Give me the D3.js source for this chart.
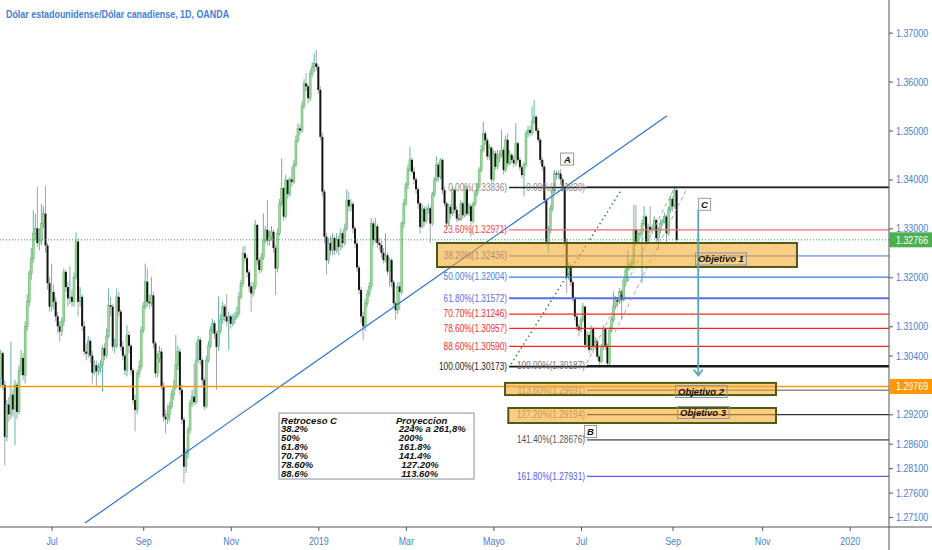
<!DOCTYPE html>
<html>
<head>
<meta charset="utf-8">
<script src="https://cdn.jsdelivr.net/npm/d3@7"></script>
<style>
  body { margin: 0; background: #fff; }
  svg text { font-family: "Liberation Sans", sans-serif; }
</style>
</head>
<body>
<svg id="chart" width="932" height="550"></svg>
<script>
// daily USD/CAD candles, values in pips above 1.30000, one per weekday from 28 May 2018
const firstOpen = -7
const closePips = [
  45,-20,-126,-60,-80,-40,-70,-20,-75,10,
  35,0,100,150,208,239,290,300,270,275,
  310,330,265,188,140,170,150,120,100,89,
  110,211,180,157,160,150,200,273,150,160,
  100,48,44,70,40,5,20,8,15,20,
  55,40,80,143,140,58,60,160,130,58,
  40,10,82,60,10,-51,-71,4,17,92,
  140,191,150,147,163,65,4,34,48,-24,
  -85,-90,-80,-64,-40,-23,21,48,-30,-91,
  -187,-160,-112,-57,-44,-55,31,72,31,-10,
  -64,31,60,92,106,85,58,90,113,140,
  120,110,120,105,113,120,127,160,188,249,
  239,210,181,167,181,307,235,215,240,276,
  297,275,283,293,260,218,290,351,382,324,
  399,370,400,395,430,480,504,500,550,596,
  590,566,617,630,637,630,583,487,375,283,
  235,270,255,280,255,278,262,290,270,300,
  358,345,350,300,269,220,174,120,100,147,
  165,181,310,276,304,270,266,250,235,245,
  212,235,190,147,133,181,170,310,351,389,
  420,440,416,400,380,351,303,340,314,338,
  341,310,370,399,430,405,440,378,351,310,
  344,330,379,338,320,318,351,327,380,330,
  345,315,350,370,385,419,460,494,480,447,
  465,400,453,426,443,450,460,419,481,433,
  450,440,433,474,440,425,409,430,494,501,
  495,518,528,500,481,440,426,358,273,297,
  341,378,412,410,412,400,382,273,201,222,
  190,157,120,99,92,113,140,62,82,52,
  96,58,70,38,28,58,96,60,24,92,
  113,140,154,150,171,154,191,215,225,225,
  230,297,273,290,290,310,324,273,303,297,
  300,317,280,297,310,314,324,290,338,360,
  345,378,276.6
]
const highPips = [
  52,48,-10,-50,-45,68,-30,-10,-15,20,
  51,45,110,165,215,260,337,330,385,300,
  350,345,387,270,200,228,185,160,130,110,
  118,218,215,190,222,175,210,292,280,180,
  165,110,65,80,75,50,30,30,25,30,
  60,65,95,177,160,145,75,177,170,135,
  70,45,102,90,65,15,-40,10,30,100,
  150,228,218,165,201,170,70,45,60,55,
  -15,-70,-60,-55,-30,-10,82,60,55,-20,
  -85,-150,-105,-50,-30,24,68,80,78,35,
  -5,40,70,100,115,112,90,161,125,150,
  145,165,130,125,125,130,140,170,195,263,
  265,245,215,190,190,317,310,240,250,331,
  305,358,295,305,298,265,300,360,443,385,
  409,400,405,426,440,490,515,512,560,605,
  617,595,625,640,658,665,635,590,495,380,
  290,280,285,290,285,290,285,300,295,310,
  379,375,360,355,305,275,225,180,130,155,
  175,190,321,315,321,310,280,275,260,290,
  250,240,240,195,150,190,190,315,360,395,
  430,467,445,425,405,385,355,350,345,345,
  350,345,375,405,447,435,443,443,385,355,
  350,350,385,382,345,330,358,355,388,385,
  352,350,355,378,392,425,470,518,500,485,
  472,468,460,458,460,458,501,465,490,494,
  460,455,448,515,478,445,430,435,500,510,
  508,549,562,532,505,485,445,430,362,305,
  348,385,419,418,418,421,405,385,280,230,
  228,195,160,125,105,120,148,142,90,88,
  102,98,78,75,42,64,102,98,65,98,
  120,171,162,160,178,175,198,222,256,232,
  238,348,348,298,296,318,345,328,310,345,
  308,325,320,303,318,320,332,328,345,368,
  365,384,382
]
const lowPips = [
  -24,-30,-184,-135,-95,-90,-85,-143,-90,-80,
  0,-10,-17,90,140,195,230,275,262,255,
  265,300,250,175,130,130,135,110,85,68,
  80,100,170,140,145,140,140,195,120,140,
  90,40,30,35,25,-17,0,-24,0,5,
  -34,30,35,75,120,50,45,55,120,50,
  30,0,-3,45,0,-60,-115,-80,-5,10,
  85,135,140,135,140,55,-5,-5,25,-30,
  -95,-119,-100,-95,-70,-50,-30,10,-40,-100,
  -221,-200,-170,-120,-65,-62,-60,25,20,-20,
  -71,-68,25,55,85,75,-30,50,85,105,
  110,100,51,95,100,105,115,120,155,180,
  230,200,170,130,160,175,225,208,210,235,
  270,265,265,275,250,164,210,285,345,315,
  320,360,365,385,390,425,475,490,495,545,
  580,555,560,610,620,622,575,480,365,270,
  205,228,245,245,245,250,245,255,260,265,
  295,335,335,290,260,210,165,106,72,90,
  140,160,175,265,270,260,255,240,228,230,
  205,181,180,140,113,125,133,165,300,345,
  380,415,410,390,370,340,290,300,305,310,
  330,269,305,365,395,395,400,370,345,297,
  305,320,325,330,312,314,315,320,322,325,
  325,283,310,345,365,380,415,455,470,440,
  440,392,395,420,420,435,445,410,415,425,
  428,432,425,428,435,418,402,365,425,485,
  488,490,512,495,475,432,418,350,265,249,
  290,335,372,400,402,392,375,265,167,195,
  182,150,112,90,79,88,108,55,58,45,
  50,45,52,32,16,24,52,52,17,20,
  88,108,135,140,145,112,150,185,191,215,
  218,225,265,268,280,188,305,265,270,290,
  288,295,272,256,290,305,310,269,285,332,
  335,340,272
]

const priceTicks = [1.37, 1.36, 1.35, 1.34, 1.33, 1.32, 1.31, 1.304, 1.292, 1.286, 1.281, 1.276, 1.271]
const monthTicks = ["2018-07", "2018-09", "2018-11", "2019-01", "2019-03", "2019-05", "2019-07", "2019-09", "2019-11", "2020-01"]
const monthLabels = ["Jul", "Sep", "Nov", "2019", "Mar", "Mayo", "Jul", "Sep", "Nov", "2020"]

const lastPrice = 1.32766
const alertPrice = 1.29769

// retracement drawn from the high to the low (starts at bar 249.7)
const retLevels = [0, 23.6, 38.2, 50, 61.8, 70.7, 78.6, 88.6, 100]
const retPrices = [1.33836, 1.32971, 1.32436, 1.32004, 1.31572, 1.31246, 1.30957, 1.30590, 1.30173]
// extension drawn from the same swing (starts at bar 288)
const extLevels = [0, 100, 113.6, 127.2, 141.4, 161.8]
const extPrices = [1.33839, 1.30187, 1.29691, 1.29194, 1.28676, 1.27931]

// target zones: [bar from, bar to], [price top, price bottom]
const zoneNames = ["Objetivo 1", "Objetivo 2", "Objetivo 3"]
const zoneBars = [[214.3, 391.1], [247.7, 380.8], [249.3, 380.8]]
const zonePrices = [[1.32701, 1.32211], [1.29842, 1.29593], [1.29329, 1.29022]]
const zoneTagBar = [341, 331.2, 332.2]
const zoneTagPrice = [1.32374, 1.29666, 1.29237]

const pointNames = ["A", "B", "C"]
const pointBar = [278.4, 289.7, 345.7]
const pointPrice = [1.34417, 1.28848, 1.33492]

const trendBars = [41.4, 327.3], trendPrices = [1.26978, 1.35302]
const dottedBars = [250.7, 305], dottedPrices = [1.30228, 1.33798]
const channelBars = [[287.8, 330.4], [301.7, 337.1]]
const channelPrices = [[1.30242, 1.33784], [1.30882, 1.33819]]
const arrowBar = 342.6, arrowPrices = [1.33375, 1.29993]

const tableBar = 136.7, tablePrice = 1.29226
const retroceso = ["Retroceso C", "38.2%", "50%", "61.8%", "70.7%", "78.60%", "88.6%"]
const proyeccion = ["Proyeccion", " 224% a 261,8%", " 200%", " 161.8%", " 141.4%", "  127.20%", "  113.60%"]

// ---------------------------------------------------------------
const W = 932, H = 550, plotR = 889, plotB = 527
const narrow = 0.81   // TradingView's font is narrower than Liberation Sans
const svg = d3.select("#chart")

const x = d3.scaleLinear().domain([-0.35, 436.3]).range([0, plotR])
const y = d3.scaleLinear().domain([1.26897, 1.37667]).range([plotB, 0])
const px = v => 1.3 + v / 10000

const start = new Date(2018, 4, 28)
function weekdayIndex(d) {
    let n = 0
    const t = new Date(start)
    while (t < d) {
        const w = t.getDay()
        if (w !== 0 && w !== 6) n++
        t.setDate(t.getDate() + 1)
    }
    return n
}
const monthIdx = monthTicks.map(m => {
    const [yy, mm] = m.split("-").map(Number)
    const d = new Date(yy, mm - 1, 1)
    while (d.getDay() === 0 || d.getDay() === 6) d.setDate(d.getDate() + 1)
    return weekdayIndex(d)
})

const candles = closePips.map((c, i) => ({
    i: i,
    o: px(i ? closePips[i - 1] : firstOpen),
    c: px(c), h: px(highPips[i]), l: px(lowPips[i])
}))

// text squeezed horizontally around its anchor
function ntext(parent, tx, ty, sx) {
    return parent.append("text").attr("transform", `translate(${tx},${ty}) scale(${sx || narrow},1)`)
}

svg.append("defs").append("clipPath").attr("id", "plot")
    .append("rect").attr("width", plotR).attr("height", plotB)
const plot = svg.append("g").attr("clip-path", "url(#plot)")

// candles
const cg = plot.append("g")
cg.selectAll("line.wick").data(candles).join("line")
    .attr("x1", d => x(d.i)).attr("x2", d => x(d.i))
    .attr("y1", d => y(d.h)).attr("y2", d => y(d.l))
    .attr("stroke", d => d.c >= d.o ? "#62b3b0" : "#a6a6a6")
    .attr("stroke-width", 1)
cg.selectAll("rect.body").data(candles).join("rect")
    .attr("x", d => x(d.i) - 1).attr("width", 2)
    .attr("y", d => y(Math.max(d.o, d.c)))
    .attr("height", d => Math.max(1, Math.abs(y(d.o) - y(d.c))))
    .attr("fill", d => d.c >= d.o ? "#a2d5a2" : "#141414")
    .attr("stroke", d => d.c >= d.o ? "#5fb15f" : "none")
    .attr("stroke-width", 0.5)

// trend line
plot.append("line")
    .attr("x1", x(trendBars[0])).attr("y1", y(trendPrices[0]))
    .attr("x2", x(trendBars[1])).attr("y2", y(trendPrices[1]))
    .attr("stroke", "#2f72d8").attr("stroke-width", 1.2)

// horizontal price lines
plot.append("line").attr("x1", 0).attr("x2", plotR)
    .attr("y1", y(alertPrice)).attr("y2", y(alertPrice))
    .attr("stroke", "#ff9a0a").attr("stroke-width", 1.6)
plot.append("line").attr("x1", 0).attr("x2", plotR)
    .attr("y1", y(lastPrice)).attr("y2", y(lastPrice))
    .attr("stroke", "#3c9c46").attr("stroke-width", 1).attr("stroke-dasharray", "1,2")

// fib levels
const retStyle = {
    0: ["#222", "#8a8a8a", 1.6], 23.6: ["#f36a6a", "#f04848", 1.2], 38.2: ["#4a6ee0", "#4a6ee0", 1],
    50: ["#3a7be0", "#3f7fe0", 1.2], 61.8: ["#5a6ee6", "#5a6ce8", 2], 70.7: ["#ff2020", "#f03030", 1.2],
    78.6: ["#ff2020", "#f03030", 1.2], 88.6: ["#ff2020", "#f03030", 1.2], 100: ["#1a1a1a", "#222", 1.8]
}
const extStyle = {
    0: ["#222", "#8a8a8a", 1.6], 100: ["#1a1a1a", "#777", 1.8], 113.6: ["#8c8c8c", "#8a8a8a", 1.4],
    127.2: ["#333", "#8a8a8a", 1.4], 141.4: ["#777", "#555", 1.8], 161.8: ["#5b5bf2", "#5560f0", 1.4]
}
function drawFib(levels, prices, startBar, style) {
    const g = svg.append("g")
    const x0 = x(startBar)
    levels.forEach((lv, k) => {
        const s = style[lv]
        const yy = y(prices[k])
        g.append("line").attr("x1", x0).attr("x2", plotR)
            .attr("y1", yy).attr("y2", yy)
            .attr("stroke", s[0]).attr("stroke-width", s[2])
        ntext(g, x0 - 2, yy, 0.83)
            .attr("text-anchor", "end").attr("dominant-baseline", "central")
            .attr("font-size", 10).attr("fill", s[1])
            .text(lv.toFixed(2) + "%(" + prices[k].toFixed(5) + ")")
    })
}
drawFib(retLevels, retPrices, 249.7, retStyle)
drawFib(extLevels, extPrices, 288, extStyle)

// dotted and dashed diagonals
svg.append("line")
    .attr("x1", x(dottedBars[0])).attr("y1", y(dottedPrices[0]))
    .attr("x2", x(dottedBars[1])).attr("y2", y(dottedPrices[1]))
    .attr("stroke", "#2f8a3c").attr("stroke-width", 1.6)
    .attr("stroke-dasharray", "1.4,3.2")
channelBars.forEach((b, k) => {
    svg.append("line")
        .attr("x1", x(b[0])).attr("y1", y(channelPrices[k][0]))
        .attr("x2", x(b[1])).attr("y2", y(channelPrices[k][1]))
        .attr("stroke", "#a8a8a8").attr("stroke-width", 1)
        .attr("stroke-dasharray", "4,3")
})

// target zones
zoneBars.forEach((b, k) => {
    svg.append("rect")
        .attr("x", x(b[0])).attr("y", y(zonePrices[k][0]))
        .attr("width", x(b[1]) - x(b[0]))
        .attr("height", y(zonePrices[k][1]) - y(zonePrices[k][0]))
        .attr("fill", "#f5a623").attr("fill-opacity", 0.56)
        .attr("stroke", "#4f5a14").attr("stroke-width", 2)
})

// arrow towards the targets
const ax = x(arrowBar), ay0 = y(arrowPrices[0]), ay1 = y(arrowPrices[1])
svg.append("path")
    .attr("d", `M${ax},${ay0}V${ay1}M${ax - 4.5},${ay1 - 6}L${ax},${ay1}L${ax + 4.5},${ay1 - 6}`)
    .attr("fill", "none").attr("stroke", "#5aa5b6").attr("stroke-width", 1.8)

function tag(txt, cx, cy, fill, stroke, anchorLeft) {
    const g = svg.append("g")
    const t = g.append("text")
        .attr("x", cx).attr("y", cy)
        .attr("text-anchor", anchorLeft ? "start" : "middle")
        .attr("dominant-baseline", "central")
        .attr("font-size", 9.5).attr("font-weight", "bold").attr("font-style", "italic")
        .attr("fill", "#111").text(txt)
    const bb = t.node().getBBox()
    g.insert("rect", "text")
        .attr("x", bb.x - 2.5).attr("y", bb.y - 0.5)
        .attr("width", bb.width + 5).attr("height", bb.height + 1)
        .attr("fill", fill).attr("stroke", stroke).attr("stroke-width", 1)
}
zoneNames.forEach((n, k) => tag(n, x(zoneTagBar[k]) + 3, y(zoneTagPrice[k]), "none", "#8797ad", true))
pointNames.forEach((n, k) => tag(n, x(pointBar[k]), y(pointPrice[k]), "#fff", "#9a9a9a", false))

// text table
const tx = x(tableBar), ty = y(tablePrice)
const tg = svg.append("g")
tg.append("rect").attr("x", tx).attr("y", ty).attr("width", 195).attr("height", 66)
    .attr("fill", "#fff").attr("stroke", "#9aa4b0").attr("stroke-width", 1.2)
const tStyle = sel => sel
    .style("white-space", "pre")
    .attr("font-size", 9.5).attr("font-weight", "bold").attr("font-style", "italic")
    .attr("fill", "#111").attr("dominant-baseline", "central")
retroceso.forEach((s, k) => tg.append("text").attr("x", tx + 2).attr("y", ty + 7 + k * 8.9).call(tStyle).text(s))
proyeccion.forEach((s, k) => tg.append("text").attr("x", tx + 117).attr("y", ty + 7 + k * 8.9).call(tStyle).text(s))

// axes
const axisColor = "#4a80d4"
svg.append("line").attr("x1", plotR).attr("x2", plotR).attr("y1", 0).attr("y2", H)
    .attr("stroke", "#555").attr("stroke-width", 1)
svg.append("line").attr("x1", 0).attr("x2", W).attr("y1", plotB).attr("y2", plotB)
    .attr("stroke", "#555").attr("stroke-width", 1)

const yAxis = svg.append("g").attr("transform", `translate(${plotR},0)`)
    .call(d3.axisRight(y).tickValues(priceTicks).tickFormat(d3.format(".5f")).tickSize(4).tickPadding(4.6))
yAxis.select(".domain").remove()
yAxis.selectAll("line").attr("stroke", "#555")
yAxis.selectAll("text").attr("fill", axisColor).attr("font-size", 11)
    .attr("transform", `scale(${narrow},1)`)

const xAxis = svg.append("g").attr("transform", `translate(0,${plotB})`)
    .call(d3.axisBottom(x).tickValues(monthIdx).tickFormat((d, k) => monthLabels[k]).tickSize(4).tickPadding(6))
xAxis.select(".domain").remove()
xAxis.selectAll("line").attr("stroke", "#555")
xAxis.selectAll("text").attr("fill", axisColor).attr("font-size", 11)
    .attr("transform", `scale(${narrow},1)`)

// price badges
function badge(p, color) {
    const yy = y(p)
    svg.append("rect").attr("x", plotR).attr("y", yy - 7.5).attr("width", W - plotR).attr("height", 15)
        .attr("fill", color)
    ntext(svg, plotR + 7, yy)
        .attr("dominant-baseline", "central").attr("font-size", 11).attr("fill", "#fff")
        .text(p.toFixed(5))
}
badge(lastPrice, "#4caf50")
badge(alertPrice, "#ff9800")

// title
ntext(svg, 6, 17.5)
    .attr("font-size", 11).attr("font-weight", "bold").attr("fill", "#3f7fd9")
    .text("Dólar estadounidense/Dólar canadiense, 1D, OANDA")
</script>
</body>
</html>
